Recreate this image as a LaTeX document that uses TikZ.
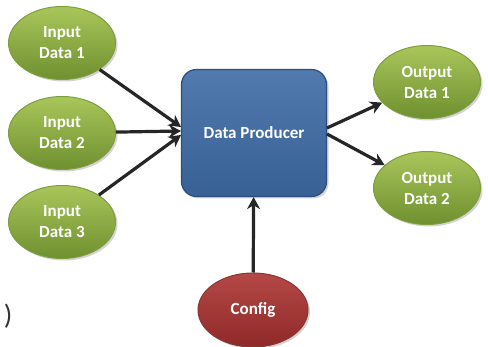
\documentclass[tikz,border=0pt]{standalone}
\usepackage{fontspec}
\setmainfont{Carlito}
\usetikzlibrary{shapes.geometric,shadows,arrows.meta}
\definecolor{grnTop}{HTML}{A9C65A}
\definecolor{grnBot}{HTML}{6F9030}
\definecolor{grnLine}{HTML}{7E9E3C}
\definecolor{bluFill}{HTML}{3E6BA6}
\definecolor{bluLine}{HTML}{2B4E7E}
\definecolor{redTop}{HTML}{B54846}
\definecolor{redBot}{HTML}{8E2A29}
\definecolor{redLine}{HTML}{8A3533}
\tikzset{
  x=1pt, y=-1pt,
  blob/.style={ellipse, minimum width=107pt, minimum height=73pt, inner sep=0pt,
    align=center, text=white, font=\bfseries\fontsize{17}{21}\selectfont,
    line width=1pt, drop shadow={shadow xshift=2pt, shadow yshift=-2pt, opacity=0.35}},
  datablob/.style={blob, draw=grnLine, top color=grnTop, bottom color=grnBot},
  cfgblob/.style={blob, draw=redLine, top color=redTop, bottom color=redBot},
  procbox/.style={rectangle, rounded corners=15pt, minimum width=145pt, minimum height=127pt,
    draw=bluLine, line width=1.2pt, top color=bluFill!90!white, bottom color=bluFill!90!black,
    text=white, font=\bfseries\fontsize{17}{21}\selectfont,
    drop shadow={shadow xshift=2pt, shadow yshift=-2pt, opacity=0.35}},
  flow/.style={line width=3.2pt, draw=black!85, -{Stealth[length=12pt, width=13pt]}}
}
\begin{document}
\begin{tikzpicture}
  \useasboundingbox (0,0) rectangle (488,347);
  \node[procbox] (prod) at (254,133) {Data Producer};
  \node[datablob] (in1) at (62,43) {Input\\Data 1};
  \node[datablob] (in2) at (62,133) {Input\\Data 2};
  \node[datablob] (in3) at (62,222) {Input\\Data 3};
  \node[datablob] (out1) at (427,82) {Output\\Data 1};
  \node[datablob] (out2) at (427,188) {Output\\Data 2};
  \node[cfgblob, minimum width=110pt, minimum height=74pt] (cfg) at (253,310) {Config};
  \node[font=\fontsize{28}{28}\selectfont, text=black!80] (paren) at (8,316) {)};

  \coordinate (pA) at (181,127);
  \coordinate (pB) at (181,131);
  \coordinate (pC) at (181,135);
  \coordinate (qA) at (327,128);
  \coordinate (qB) at (327,134);
  \draw[flow] (in1) -- (pA);
  \draw[flow] (in2) -- (pB);
  \draw[flow] (in3) -- (pC);
  \draw[flow] (qA) -- (out1);
  \draw[flow] (qB) -- (out2);
  \draw[flow] (cfg) -- (prod);
\end{tikzpicture}
\end{document}
